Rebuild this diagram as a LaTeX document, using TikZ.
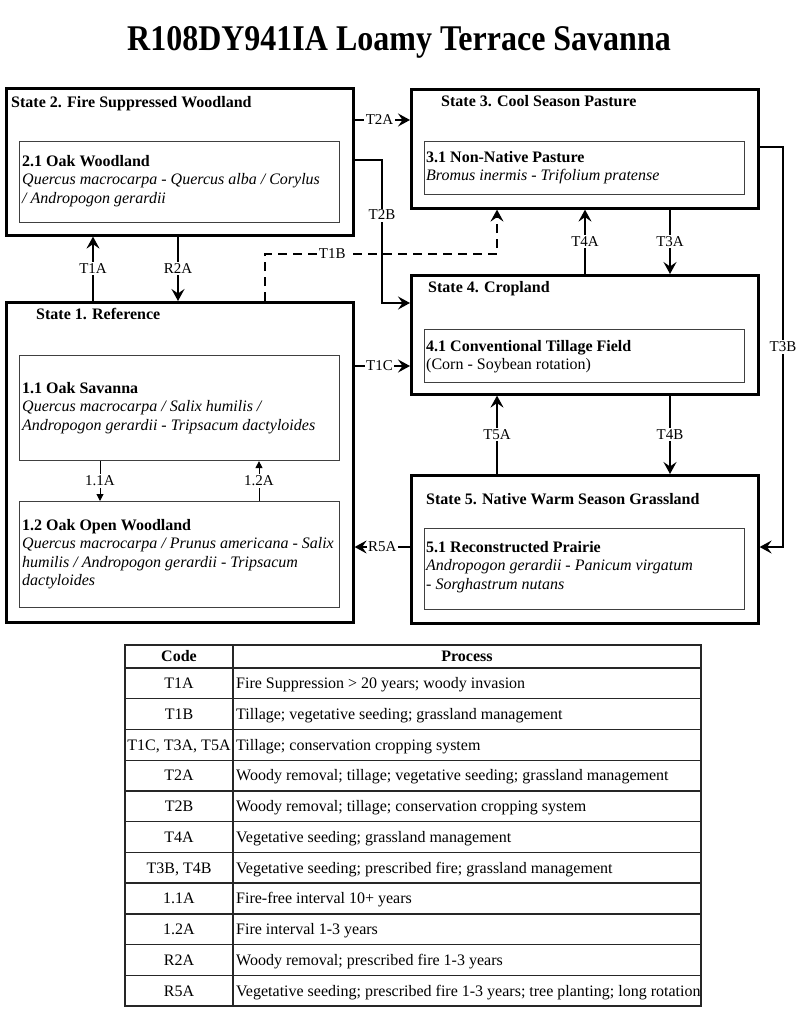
\documentclass[tikz,border=0pt]{standalone}
\usepackage{fontspec}
\setmainfont{Liberation Serif}
\usepackage{graphicx}
\usetikzlibrary{arrows.meta}
\begin{document}
\begin{tikzpicture}[x=1pt,y=-1pt,
 outerbox/.style={draw=black, line width=2.6pt, inner sep=0, anchor=north west},
 innerbox/.style={draw=black!75, line width=1.1pt, inner sep=0, anchor=north west},
 statetitle/.style={font=\fontsize{16}{19}\selectfont\bfseries, inner sep=0, anchor=base west},
 phasetext/.style={font=\fontsize{16}{18.5}\selectfont, align=left, inner sep=0, anchor=north west},
 conn/.style={line width=2pt, line join=miter, -{Stealth[length=12pt,width=13pt,inset=4.5pt]}},
 dconn/.style={conn, dash pattern=on 9pt off 6pt},
 sconn/.style={line width=1pt, -{Triangle[length=7pt,width=7pt]}},
 lbl/.style={fill=white, inner sep=1.5pt, font=\fontsize{15}{17}\selectfont},
 tline/.style={line width=1.3pt, draw=black!85},
 tcell/.style={font=\fontsize{16}{18}\selectfont, inner sep=0, anchor=base},
 tproc/.style={font=\fontsize{16}{18}\selectfont, inner sep=0, anchor=base west},
]
\useasboundingbox[fill=white] (0,0) rectangle (800,1016);

% title
\node[font=\fontsize{32}{36}\selectfont\bfseries, inner sep=0, anchor=base] (title) at (399,51) {\scalebox{1}[1.13]{R108DY941IA Loamy Terrace Savanna}};

% state boxes
\node[outerbox, minimum width=347pt, minimum height=147pt] (s2) at (5,87) {};
\node[innerbox, minimum width=320pt, minimum height=81pt] (s2a) at (19,141) {};
\node[outerbox, minimum width=347pt, minimum height=119pt] (s3) at (410,88) {};
\node[innerbox, minimum width=320pt, minimum height=53pt] (s3a) at (424,141) {};
\node[outerbox, minimum width=347pt, minimum height=119pt] (s4) at (410,274) {};
\node[innerbox, minimum width=320pt, minimum height=53pt] (s4a) at (424,329) {};
\node[outerbox, minimum width=347pt, minimum height=148pt] (s5) at (410,474) {};
\node[innerbox, minimum width=320pt, minimum height=81pt] (s5a) at (424,528) {};
\node[outerbox, minimum width=347pt, minimum height=320pt] (s1) at (5,301) {};
\node[innerbox, minimum width=320pt, minimum height=105pt] (s1a) at (19,355) {};
\node[innerbox, minimum width=320pt, minimum height=106pt] (s1b) at (19,501) {};

% state titles
\node[statetitle] (ts2) at (11,108) {State 2. Fire Suppressed Woodland};
\node[statetitle] (ts3) at (441,107) {State 3. Cool Season Pasture};
\node[statetitle] (ts4) at (428,292) {State 4. Cropland};
\node[statetitle] (ts5) at (426,504) {State 5. Native Warm Season Grassland};
\node[statetitle] (ts1) at (36,319) {State 1. Reference};

% phase texts
\node[phasetext] (p21) at (22,155) {\textbf{2.1 Oak Woodland}\\\textit{Quercus macrocarpa - Quercus alba / Corylus}\\\textit{/ Andropogon gerardii}};
\node[phasetext] (p31) at (426,151) {\textbf{3.1 Non-Native Pasture}\\\textit{Bromus inermis - Trifolium pratense}};
\node[phasetext] (p41) at (426,340) {\textbf{4.1 Conventional Tillage Field}\\(Corn - Soybean rotation)};
\node[phasetext] (p51) at (426,541) {\textbf{5.1 Reconstructed Prairie}\\\textit{Andropogon gerardii - Panicum virgatum}\\\textit{- Sorghastrum nutans}};
\node[phasetext] (p11) at (22,382) {\textbf{1.1 Oak Savanna}\\\textit{Quercus macrocarpa / Salix humilis /}\\\textit{Andropogon gerardii - Tripsacum dactyloides}};
\node[phasetext] (p12) at (22,519) {\textbf{1.2 Oak Open Woodland}\\\textit{Quercus macrocarpa / Prunus americana - Salix}\\\textit{humilis / Andropogon gerardii - Tripsacum}\\\textit{dactyloides}};

% helper coordinates
\coordinate (xT1A) at (93,0);
\coordinate (xR2A) at (178,0);
\coordinate (xT4A) at (585,0);
\coordinate (xT3A) at (670,0);
\coordinate (xT5A) at (497,0);
\coordinate (x11A) at (100,0);
\coordinate (x12A) at (259,0);
\coordinate (yT2A) at (0,120);
\coordinate (yT1C) at (0,366);
\coordinate (yR5A) at (0,547);
\coordinate (b1) at (265,254);
\coordinate (b2) at (497,254);
\coordinate (c1) at (382,160);
\coordinate (c2) at (382,303);
\coordinate (d1) at (783,147);
\coordinate (d2) at (783,547);

% connectors
\draw[conn] (s1.north -| xT1A) -- node[lbl]{T1A} (s2.south -| xT1A);
\draw[conn] (s2.south -| xR2A) -- node[lbl]{R2A} (s1.north -| xR2A);
\draw[dconn] (s1.north -| b1) -- (b1) -- node[lbl,pos=0.29]{T1B} (b2) -- (s3.south -| b2);
\draw[conn] (s2.east |- c1) -- (c1) -- node[lbl,pos=0.385]{T2B} (c2) -- (s4.west |- c2);
\draw[conn] (s3.east |- d1) -- (d1) -- node[lbl]{T3B} (d2) -- (s5.east |- d2);
\draw[conn] (s2.east |- yT2A) -- node[lbl,pos=0.45]{T2A} (s3.west |- yT2A);
\draw[conn] (s1.east |- yT1C) -- node[lbl,pos=0.45]{T1C} (s4.west |- yT1C);
\draw[conn] (s5.west |- yR5A) -- node[lbl,pos=0.5]{R5A} (s1.east |- yR5A);
\draw[conn] (s4.north -| xT4A) -- node[lbl]{T4A} (s3.south -| xT4A);
\draw[conn] (s3.south -| xT3A) -- node[lbl]{T3A} (s4.north -| xT3A);
\draw[conn] (s5.north -| xT5A) -- node[lbl]{T5A} (s4.south -| xT5A);
\draw[conn] (s4.south -| xT3A) -- node[lbl]{T4B} (s5.north -| xT3A);
\draw[sconn] (s1a.south -| x11A) -- node[lbl]{1.1A} (s1b.north -| x11A);
\draw[sconn] (s1b.north -| x12A) -- node[lbl]{1.2A} (s1a.south -| x12A);

% table
\draw[tline] (125,645) rectangle (701,1006);
\draw[tline] (233,645) -- (233,1006);
\foreach \i in {0,...,10} \draw[tline] (125,668+30.73*\i) -- (701,668+30.73*\i);
\node[tcell,font=\fontsize{16}{18}\selectfont\bfseries] (hc) at (179,661.8) {Code};
\node[tcell,font=\fontsize{16}{18}\selectfont\bfseries] (hp) at (467,661.8) {Process};
\node[tcell] (c0) at (179,688.7) {T1A};
\node[tproc] (q0) at (236,688.7) {Fire Suppression > 20 years; woody invasion};
\node[tcell] (c1) at (179,719.4) {T1B};
\node[tproc] (q1) at (236,719.4) {Tillage; vegetative seeding; grassland management};
\node[tcell] (c2) at (179,750.2) {T1C, T3A, T5A};
\node[tproc] (q2) at (236,750.2) {Tillage; conservation cropping system};
\node[tcell] (c3) at (179,780.9) {T2A};
\node[tproc] (q3) at (236,780.9) {Woody removal; tillage; vegetative seeding; grassland management};
\node[tcell] (c4) at (179,811.6) {T2B};
\node[tproc] (q4) at (236,811.6) {Woody removal; tillage; conservation cropping system};
\node[tcell] (c5) at (179,842.4) {T4A};
\node[tproc] (q5) at (236,842.4) {Vegetative seeding; grassland management};
\node[tcell] (c6) at (179,873.1) {T3B, T4B};
\node[tproc] (q6) at (236,873.1) {Vegetative seeding; prescribed fire; grassland management};
\node[tcell] (c7) at (179,903.8) {1.1A};
\node[tproc] (q7) at (236,903.8) {Fire-free interval 10+ years};
\node[tcell] (c8) at (179,934.5) {1.2A};
\node[tproc] (q8) at (236,934.5) {Fire interval 1-3 years};
\node[tcell] (c9) at (179,965.3) {R2A};
\node[tproc] (q9) at (236,965.3) {Woody removal; prescribed fire 1-3 years};
\node[tcell] (c10) at (179,996.0) {R5A};
\node[tproc] (q10) at (236,996.0) {Vegetative seeding; prescribed fire 1-3 years; tree planting; long rotation};
\end{tikzpicture}
\end{document}
